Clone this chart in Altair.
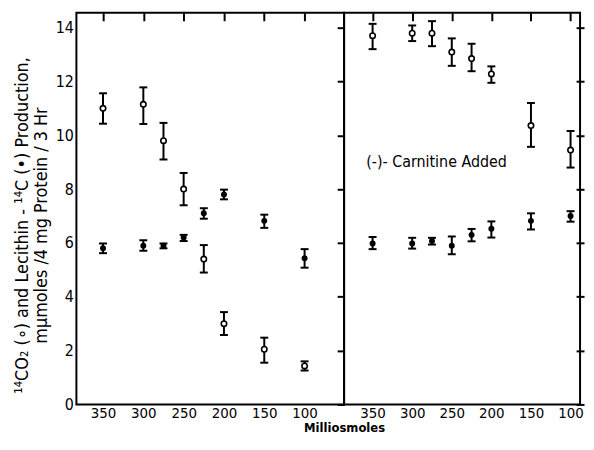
import altair as alt
import pandas as pd

FONT = "DejaVu Sans Condensed, DejaVu Sans, sans-serif"

osm = [350, 300, 275, 250, 225, 200, 150, 100]
tick_values = [350, 300, 250, 200, 150, 100]
y_values = [0, 2, 4, 6, 8, 10, 12, 14]

# Left panel (no carnitine)
left_co2 = [11.0, 11.15, 9.8, 8.0, 5.4, 3.0, 2.05, 1.43]
left_co2_lo = [10.43, 10.42, 9.1, 7.4, 4.9, 2.58, 1.55, 1.26]
left_co2_hi = [11.56, 11.78, 10.46, 8.6, 5.92, 3.43, 2.48, 1.6]
left_lec = [5.8, 5.9, 5.9, 6.2, 7.1, 7.8, 6.82, 5.43]
left_lec_lo = [5.62, 5.71, 5.8, 6.07, 6.9, 7.62, 6.56, 5.08]
left_lec_hi = [5.98, 6.1, 5.98, 6.3, 7.29, 7.98, 7.05, 5.77]

# Right panel ((-)-carnitine added)
right_co2 = [13.7, 13.79, 13.79, 13.09, 12.85, 12.28, 10.36, 9.45]
right_co2_lo = [13.2, 13.5, 13.31, 12.58, 12.38, 11.95, 9.57, 8.8]
right_co2_hi = [14.14, 14.08, 14.24, 13.6, 13.4, 12.56, 11.2, 10.16]
right_lec = [5.98, 5.98, 6.07, 5.9, 6.3, 6.53, 6.82, 7.0]
right_lec_lo = [5.77, 5.79, 5.94, 5.58, 6.06, 6.2, 6.5, 6.79]
right_lec_hi = [6.22, 6.19, 6.19, 6.24, 6.52, 6.8, 7.1, 7.18]

label_text = ["(-)- Carnitine Added"]
label_x = [358]
label_y = [9.0]

y_title = ["¹⁴CO₂ (∘) and Lecithin - ¹⁴C (•) Production,",
           "mμmoles /4  mg  Protein / 3 Hr"]


def make_df(co2, co2_lo, co2_hi, lec, lec_lo, lec_hi):
    rows = []
    for i, o in enumerate(osm):
        rows.append(dict(osm=o, series="co2", val=co2[i], lo=co2_lo[i], hi=co2_hi[i]))
        rows.append(dict(osm=o, series="lec", val=lec[i], lo=lec_lo[i], hi=lec_hi[i]))
    return pd.DataFrame(rows)


df_left = make_df(left_co2, left_co2_lo, left_co2_hi, left_lec, left_lec_lo, left_lec_hi)
df_right = make_df(right_co2, right_co2_lo, right_co2_hi, right_lec, right_lec_lo, right_lec_hi)

H = 395


def tick_axis(values, size, offset):
    # an axis used only for its ticks, pulled inside the frame with a
    # negative offset so that its ticks point inward
    return alt.Axis(values=values, labels=False, domain=False, grid=False,
                    ticks=True, tickSize=size, tickWidth=2, tickColor="black",
                    offset=offset, title=None)


def panel(df, xdom, width, first):
    xs = alt.Scale(domain=xdom, nice=False, zero=False)
    ys = alt.Scale(domain=[14.55, 0], range=[0, H], nice=False, zero=False)

    if first:
        x_axis = alt.Axis(values=tick_values, grid=False, ticks=False,
                          domain=False, labelFontSize=15, labelPadding=1,
                          title="Milliosmoles", titleX=width, titleY=27,
                          titleAlign="center", titleBaseline="alphabetic",
                          titleFontWeight="bold", titleFontSize=13)
        y_axis = alt.Axis(values=y_values, grid=False, ticks=False,
                          domain=False, labelFontSize=16, labelPadding=3,
                          title=y_title, titlePadding=5, titleY=214,
                          titleLineHeight=19, titleFontWeight="normal",
                          titleFontSize=18)
        ty_axis = tick_axis(y_values, 7, -7)
    else:
        x_axis = alt.Axis(values=tick_values, grid=False, ticks=False,
                          domain=False, labelFontSize=15, labelPadding=1,
                          title=None)
        y_axis = alt.Axis(values=y_values, grid=False, ticks=False,
                          domain=False, labels=False, title=None)
        ty_axis = tick_axis(y_values, 8, -4)
    tx_axis = tick_axis(tick_values, 8, -8)

    X = alt.X("osm:Q", scale=xs, axis=x_axis)
    base = alt.Chart(df)
    rule = base.mark_rule(color="black", strokeWidth=2).encode(
        x=X, y=alt.Y("lo:Q", scale=ys, axis=y_axis), y2="hi:Q",
    )
    cap_lo = base.mark_tick(orient="horizontal", color="black", size=8,
                            thickness=2, opacity=1).encode(
        x=X, y=alt.Y("lo:Q", scale=ys, axis=y_axis),
    )
    cap_hi = base.mark_tick(orient="horizontal", color="black", size=8,
                            thickness=2, opacity=1).encode(
        x=X, y=alt.Y("hi:Q", scale=ys, axis=y_axis),
    )
    open_pts = base.transform_filter(alt.datum.series == "co2").mark_point(
        shape="circle", filled=True, fill="white", stroke="black",
        strokeWidth=1.6, size=30, opacity=1).encode(
        x=X, y=alt.Y("val:Q", scale=ys, axis=y_axis),
    )
    filled_pts = base.transform_filter(alt.datum.series == "lec").mark_point(
        shape="circle", filled=True, color="black", size=36, opacity=1).encode(
        x=X, y=alt.Y("val:Q", scale=ys, axis=y_axis),
    )
    layers = [rule, cap_lo, cap_hi, open_pts, filled_pts]
    if not first:
        lab = alt.Chart(pd.DataFrame({"t": label_text, "osm": label_x, "val": label_y})).mark_text(
            align="left", baseline="middle", font=FONT, fontSize=16,
            color="black").encode(
            x=X, y=alt.Y("val:Q", scale=ys, axis=y_axis), text="t:N",
        )
        layers.append(lab)
    marks = alt.layer(*layers)
    ticks = base.mark_point(opacity=0).encode(
        x=alt.X("osm:Q", scale=xs, axis=tx_axis),
        y=alt.Y("val:Q", scale=ys, axis=ty_axis),
    )
    return alt.layer(marks, ticks).resolve_axis(
        x="independent", y="independent").properties(width=width, height=H)


left = panel(df_left, [383, 51], 270, True)
right = panel(df_right, [386, 88], 238, False)

chart = alt.hconcat(left, right, spacing=0, bounds="flush").properties(
    padding={"left": 4, "top": 1, "right": 0, "bottom": 0}
).configure_view(stroke="black", strokeWidth=2).configure_axis(
    labelFont=FONT, labelColor="black",
    titleFont=FONT, titleColor="black",
)

chart.save("out.html", embed_options={"renderer": "svg", "actions": False})
